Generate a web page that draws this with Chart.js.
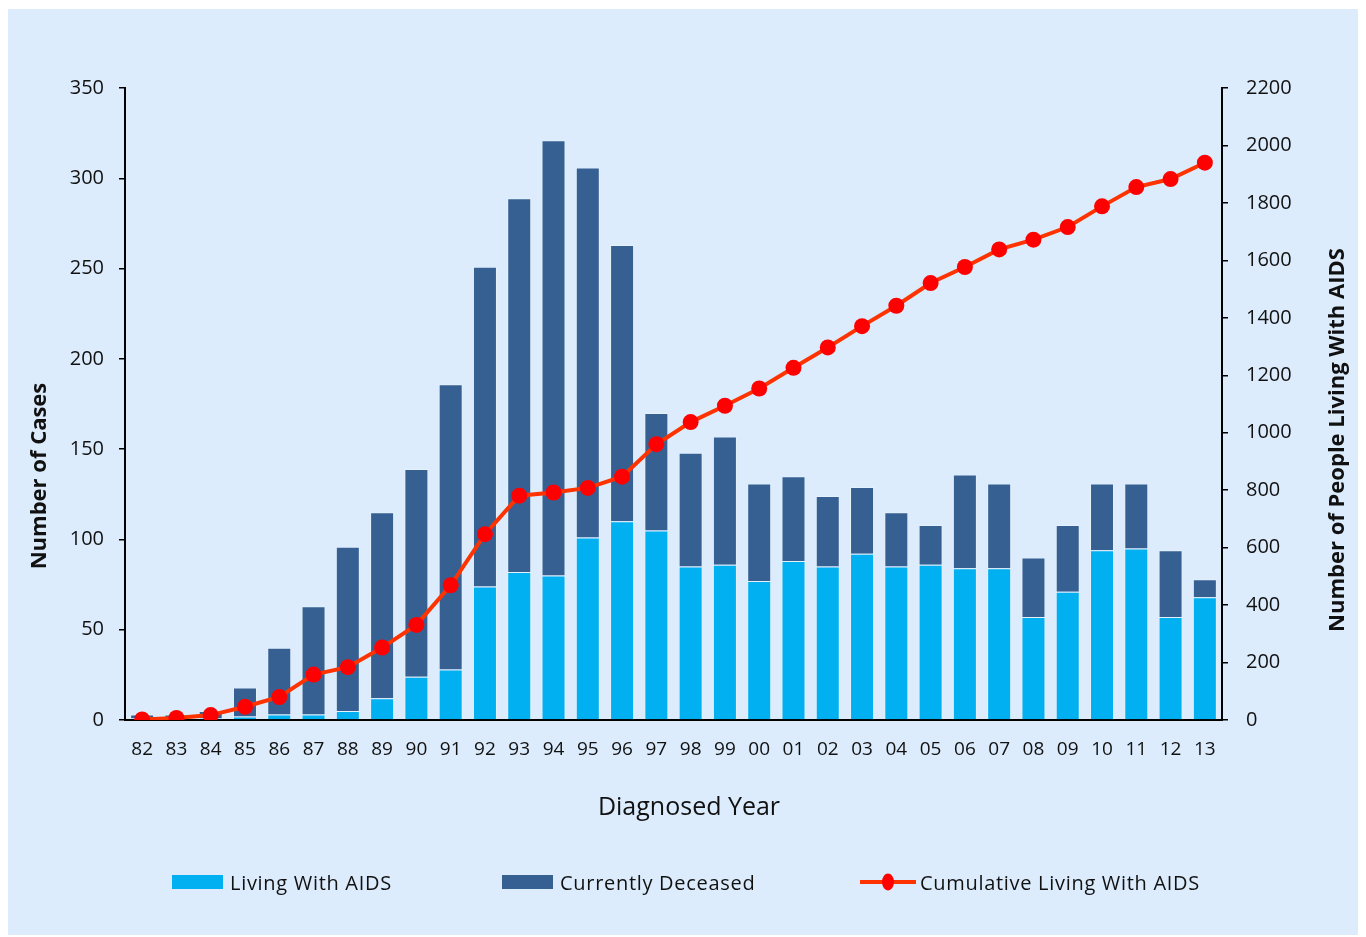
<!DOCTYPE html>
<html lang="en">
<head>
  <meta charset="UTF-8">
  <title>AIDS cases by diagnosed year</title>
  <style>
    body { margin: 0; background: #fff; font-family: "Open Sans", sans-serif; }
    .page { position: relative; width: 1366px; height: 937px; }
    .panel { position: absolute; left: 8px; top: 9px; width: 1350px; height: 926px; background: #dcecfc; }
    #chart { position: absolute; left: 0; top: 0; }
    .legend-item { position: absolute; top: 868px; height: 28px; display: flex; align-items: center; font-size: 20px; letter-spacing: 0.7px; color: #111; }
    .legend-item .swatch { width: 51px; height: 14px; margin-right: 7px; }
  </style>
</head>
<body>
  <div class="page">
    <div class="panel"></div>
    <canvas id="chart" width="1366" height="937"></canvas>
    <div id="legend"></div>
  </div>

  <script src="https://cdn.jsdelivr.net/npm/chart.js"></script>
  <script>
    const years = ['82','83','84','85','86','87','88','89','90','91','92','93','94','95','96','97',
                   '98','99','00','01','02','03','04','05','06','07','08','09','10','11','12','13']

    // bar values (number of cases)
    const livingWithAids = [1, 1, 1, 2, 3, 3, 5, 12, 24, 28, 74, 82, 80, 101, 110, 105,
                            85, 86, 77, 88, 85, 92, 85, 86, 84, 84, 57, 71, 94, 95, 57, 68]
    const currentlyDeceased = [2, 2, 4, 16, 37, 60, 91, 103, 115, 158, 177, 207, 241, 205, 153, 65,
                               63, 71, 54, 47, 39, 37, 30, 22, 52, 47, 33, 37, 37, 36, 37, 10]

    // line values (right axis)
    const cumulativeLiving = [2, 7, 17, 46, 80, 158, 184, 252, 331, 469, 647, 781, 792, 808, 847, 960,
                              1037, 1094, 1154, 1226, 1297, 1371, 1442, 1521, 1577, 1638, 1672, 1716, 1788, 1855, 1883, 1940]

    const leftTicks = [0, 50, 100, 150, 200, 250, 300, 350]
    const rightTicks = [0, 200, 400, 600, 800, 1000, 1200, 1400, 1600, 1800, 2000, 2200]

    const FONT = '"Open Sans", sans-serif'
    const LIGHT = '#00b0f0'
    const DARK = '#376092'
    const LINE = '#ff3300'
    const DOT = '#ff0000'

    // axis titles placed where the original has them
    const axisTitles = {
      id: 'axisTitles',
      afterDraw(chart) {
        const ctx = chart.ctx
        ctx.save()
        ctx.fillStyle = '#111'
        ctx.textAlign = 'center'
        ctx.textBaseline = 'middle'

        ctx.font = '25px ' + FONT
        ctx.fillText('Diagnosed Year', 689, 808)

        ctx.font = 'bold 22px ' + FONT
        ctx.save()
        ctx.translate(40, 476)
        ctx.rotate(-Math.PI / 2)
        ctx.fillText('Number of Cases', 0, 0)
        ctx.restore()

        ctx.save()
        ctx.translate(1338, 440)
        ctx.rotate(-Math.PI / 2)
        ctx.fillText('Number of People Living With AIDS', 0, 0)
        ctx.restore()
        ctx.restore()
      }
    }

    const config = {
      type: 'bar',
      data: {
        labels: years,
        datasets: [
          {
            type: 'line',
            label: 'Cumulative Living With AIDS',
            data: cumulativeLiving,
            yAxisID: 'y1',
            borderColor: LINE,
            borderWidth: 4,
            backgroundColor: DOT,
            pointBackgroundColor: DOT,
            pointBorderWidth: 0,
            pointRadius: 8,
            tension: 0,
            order: 0
          },
          {
            label: 'Living With AIDS',
            data: livingWithAids,
            backgroundColor: LIGHT,
            borderColor: 'rgba(255,255,255,0.25)',
            borderWidth: 1,
            stack: 'cases',
            order: 1
          },
          {
            label: 'Currently Deceased',
            data: currentlyDeceased,
            backgroundColor: DARK,
            borderColor: 'rgba(255,255,255,0.25)',
            borderWidth: 1,
            stack: 'cases',
            order: 1
          }
        ]
      },
      options: {
        responsive: false,
        animation: false,
        layout: { padding: { top: 88, bottom: 97, left: 0, right: 0 } },
        plugins: {
          legend: { display: false },
          tooltip: { enabled: false }
        },
        datasets: {
          bar: { categoryPercentage: 1, barPercentage: 0.7 }
        },
        scales: {
          x: {
            stacked: true,
            grid: { display: false, drawTicks: false },
            border: { display: true, color: '#000', width: 2 },
            ticks: { color: '#111', font: { family: FONT, size: 19 }, padding: 18, autoSkip: false, maxRotation: 0 },
            afterFit(scale) { scale.height = 120 }
          },
          y: {
            stacked: true,
            position: 'left',
            min: 0,
            max: 350,
            afterBuildTicks(scale) { scale.ticks = leftTicks.map(v => ({ value: v })) },
            grid: { drawOnChartArea: false, drawTicks: true, tickLength: 6, color: '#000', lineWidth: 1.5 },
            border: { display: true, color: '#000', width: 2 },
            ticks: { color: '#111', font: { family: FONT, size: 20 }, padding: 15 },
            afterFit(scale) { scale.width = 125 }
          },
          y1: {
            position: 'right',
            min: 0,
            max: 2200,
            afterBuildTicks(scale) { scale.ticks = rightTicks.map(v => ({ value: v })) },
            grid: { drawOnChartArea: false, drawTicks: true, tickLength: 6, color: '#000', lineWidth: 1.5 },
            border: { display: true, color: '#000', width: 2 },
            ticks: { color: '#111', font: { family: FONT, size: 20 }, padding: 18, callback: v => String(v) },
            afterFit(scale) { scale.width = 144 }
          }
        }
      },
      plugins: [axisTitles]
    }

    const chart = new Chart(document.getElementById('chart'), config)

    // legend built from the datasets, placed like the original
    const legendSpots = { 'Living With AIDS': 172, 'Currently Deceased': 502, 'Cumulative Living With AIDS': 860 }
    const legendOrder = ['Living With AIDS', 'Currently Deceased', 'Cumulative Living With AIDS']
    const legendEl = document.getElementById('legend')
    legendOrder.forEach(name => {
      const ds = chart.data.datasets.find(d => d.label === name)
      const item = document.createElement('div')
      item.className = 'legend-item'
      item.style.left = legendSpots[name] + 'px'
      const sw = document.createElement('canvas')
      sw.className = 'swatch'
      sw.width = 56
      sw.height = 18
      const c = sw.getContext('2d')
      if (ds.type === 'line') {
        sw.style.width = '56px'
        sw.style.height = '18px'
        sw.style.marginRight = '4px'
        c.strokeStyle = ds.borderColor
        c.lineWidth = 4
        c.beginPath(); c.moveTo(0, 9); c.lineTo(56, 9); c.stroke()
        c.fillStyle = ds.pointBackgroundColor
        c.beginPath(); c.ellipse(28, 9, 6, 8.5, 0, 0, Math.PI * 2); c.fill()
      } else {
        sw.width = 51
        sw.height = 14
        c.fillStyle = ds.backgroundColor
        c.fillRect(0, 0, 51, 14)
      }
      item.appendChild(sw)
      const label = document.createElement('span')
      label.textContent = name
      item.appendChild(label)
      legendEl.appendChild(item)
    })
  </script>
</body>
</html>
